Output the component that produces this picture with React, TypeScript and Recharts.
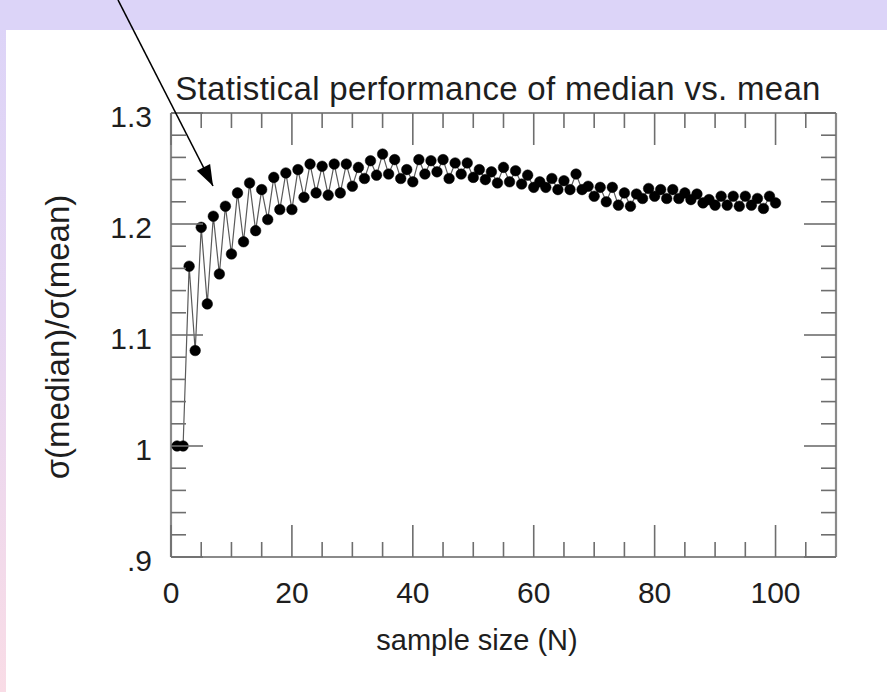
import React from 'react';
import { LineChart, Line, XAxis, YAxis } from 'recharts';

// ---------- data ----------
const sampleSizes = [
  1, 2, 3, 4, 5, 6, 7, 8, 9, 10,
  11, 12, 13, 14, 15, 16, 17, 18, 19, 20,
  21, 22, 23, 24, 25, 26, 27, 28, 29, 30,
  31, 32, 33, 34, 35, 36, 37, 38, 39, 40,
  41, 42, 43, 44, 45, 46, 47, 48, 49, 50,
  51, 52, 53, 54, 55, 56, 57, 58, 59, 60,
  61, 62, 63, 64, 65, 66, 67, 68, 69, 70,
  71, 72, 73, 74, 75, 76, 77, 78, 79, 80,
  81, 82, 83, 84, 85, 86, 87, 88, 89, 90,
  91, 92, 93, 94, 95, 96, 97, 98, 99, 100,
];

const medianToMeanRatio = [
  1.0, 1.0, 1.162, 1.086, 1.197, 1.128, 1.207, 1.155, 1.216, 1.173,
  1.228, 1.184, 1.237, 1.194, 1.231, 1.204, 1.242, 1.213, 1.246, 1.213,
  1.249, 1.224, 1.254, 1.228, 1.252, 1.226, 1.254, 1.228, 1.254, 1.234,
  1.251, 1.241, 1.257, 1.244, 1.263, 1.245, 1.258, 1.241, 1.249, 1.238,
  1.258, 1.245, 1.257, 1.247, 1.258, 1.241, 1.255, 1.245, 1.255, 1.242,
  1.249, 1.240, 1.247, 1.237, 1.251, 1.238, 1.248, 1.236, 1.244, 1.233,
  1.238, 1.233, 1.241, 1.231, 1.239, 1.231, 1.245, 1.231, 1.234, 1.225,
  1.233, 1.220, 1.233, 1.217, 1.228, 1.216, 1.227, 1.223, 1.232, 1.225,
  1.231, 1.223, 1.231, 1.223, 1.228, 1.222, 1.227, 1.219, 1.222, 1.217,
  1.225, 1.217, 1.225, 1.216, 1.225, 1.217, 1.223, 1.214, 1.225, 1.219,
];

const xMajorTicks = [0, 20, 40, 60, 80, 100];
const xTickLabels = ['0', '20', '40', '60', '80', '100'];
const xMinorTicks = [5, 10, 15, 25, 30, 35, 45, 50, 55, 65, 70, 75, 85, 90, 95, 105];

const yMajorTicks = [0.9, 1.0, 1.1, 1.2, 1.3];
const yTickLabels = ['.9', '1', '1.1', '1.2', '1.3'];
const yMinorTicks = [
  0.92, 0.94, 0.96, 0.98, 1.02, 1.04, 1.06, 1.08, 1.12, 1.14,
  1.16, 1.18, 1.22, 1.24, 1.26, 1.28,
];

const titleText = 'Statistical performance of median vs. mean';
const xAxisTitle = 'sample size (N)';
const yAxisTitle = 'σ(median)/σ(mean)';

// ---------- styles ----------
const FONT = '"Liberation Sans", Arial, Helvetica, sans-serif';
const TEXT_COLOR = '#1e1e1e';
const TICK_COLOR = '#6e6e6e';
const FRAME_COLOR = '#8a8a8a';
const MAJOR_LEN = 32;
const MINOR_LEN = 15;
const FONT_SIZE = 30;

const chartData = sampleSizes.map((n, i) => ({ n, ratio: medianToMeanRatio[i] }));
const xAllTicks = [...xMajorTicks, ...xMinorTicks].sort((a, b) => a - b);
const yAllTicks = [...yMajorTicks, ...yMinorTicks].sort((a, b) => a - b);

const xMajorIndex = (v: number) => xMajorTicks.findIndex((m) => Math.abs(m - v) < 1e-9);
const yMajorIndex = (v: number) => yMajorTicks.findIndex((m) => Math.abs(m - v) < 1e-9);

const BottomTick = (props: any) => {
  const { x, y, payload } = props;
  const idx = xMajorIndex(payload.value);
  const len = idx >= 0 ? MAJOR_LEN : MINOR_LEN;
  return (
    <g>
      <line x1={x} y1={y} x2={x} y2={y - len} stroke={TICK_COLOR} strokeWidth={1.6} />
      {idx >= 0 && (
        <text
          x={x}
          y={y + 35}
          textAnchor="middle"
          dominantBaseline="central"
          fontFamily={FONT}
          fontSize={FONT_SIZE}
          fill={TEXT_COLOR}
        >
          {xTickLabels[idx]}
        </text>
      )}
    </g>
  );
};

const TopTick = (props: any) => {
  const { x, y, payload } = props;
  const idx = xMajorIndex(payload.value);
  const len = idx >= 0 ? MAJOR_LEN : MINOR_LEN;
  return <line x1={x} y1={y} x2={x} y2={y + len} stroke={TICK_COLOR} strokeWidth={1.6} />;
};

const LeftTick = (props: any) => {
  const { x, y, payload } = props;
  const idx = yMajorIndex(payload.value);
  const len = idx >= 0 ? MAJOR_LEN : MINOR_LEN;
  return (
    <g>
      <line x1={x} y1={y} x2={x + len} y2={y} stroke={TICK_COLOR} strokeWidth={1.6} />
      {idx >= 0 && (
        <text
          x={x - 19}
          y={y + 3}
          textAnchor="end"
          dominantBaseline="central"
          fontFamily={FONT}
          fontSize={FONT_SIZE}
          fill={TEXT_COLOR}
        >
          {yTickLabels[idx]}
        </text>
      )}
    </g>
  );
};

const RightTick = (props: any) => {
  const { x, y, payload } = props;
  const idx = yMajorIndex(payload.value);
  const len = idx >= 0 ? MAJOR_LEN : MINOR_LEN;
  return <line x1={x} y1={y} x2={x - len} y2={y} stroke={TICK_COLOR} strokeWidth={1.6} />;
};

// arrow annotation geometry
const arrowStart = { x: 118, y: 0 };
const arrowTip = { x: 213, y: 186 };

function arrowHead() {
  const dx = arrowTip.x - arrowStart.x;
  const dy = arrowTip.y - arrowStart.y;
  const len = Math.sqrt(dx * dx + dy * dy);
  const ux = dx / len;
  const uy = dy / len;
  const hl = 21;
  const hw = 7.5;
  const bx = arrowTip.x - ux * hl;
  const by = arrowTip.y - uy * hl;
  return `${arrowTip.x},${arrowTip.y} ${bx - uy * hw},${by + ux * hw} ${bx + uy * hw},${by - ux * hw}`;
}

export default function App() {
  const axisLine = { stroke: FRAME_COLOR, strokeWidth: 2.2 };
  return (
    <div
      style={{
        position: 'absolute',
        left: 0,
        top: 0,
        width: 887,
        height: 692,
        overflow: 'hidden',
        background: 'linear-gradient(180deg, #dcd4f8 0%, #e6d6f2 45%, #f9dce6 100%)',
      }}
    >
      <div style={{ position: 'absolute', left: 0, top: 0, width: 887, height: 30, background: '#dcd4f8' }} />
      <div style={{ position: 'absolute', left: 6, top: 30, width: 881, height: 662, background: '#ffffff' }} />
      <div style={{ position: 'absolute', left: 0, top: 0 }}>
        <LineChart
          width={887}
          height={692}
          data={chartData}
          margin={{ top: 112, right: 50, bottom: 134, left: 170 }}
        >
          <XAxis
            xAxisId="bottom"
            dataKey="n"
            type="number"
            domain={[0, 110]}
            ticks={xAllTicks}
            interval={0}
            tickSize={0}
            tickMargin={0}
            height={1}
            tick={BottomTick}
            tickLine={false}
            axisLine={axisLine}
            allowDataOverflow
          />
          <XAxis
            xAxisId="top"
            orientation="top"
            dataKey="n"
            type="number"
            domain={[0, 110]}
            ticks={xAllTicks}
            interval={0}
            tickSize={0}
            tickMargin={0}
            height={1}
            tick={TopTick}
            tickLine={false}
            axisLine={axisLine}
            allowDataOverflow
          />
          <YAxis
            yAxisId="left"
            dataKey="ratio"
            type="number"
            domain={[0.9, 1.3]}
            ticks={yAllTicks}
            interval={0}
            tickSize={0}
            tickMargin={0}
            width={1}
            tick={LeftTick}
            tickLine={false}
            axisLine={axisLine}
            allowDataOverflow
          />
          <YAxis
            yAxisId="right"
            orientation="right"
            dataKey="ratio"
            type="number"
            domain={[0.9, 1.3]}
            ticks={yAllTicks}
            interval={0}
            tickSize={0}
            tickMargin={0}
            width={1}
            tick={RightTick}
            tickLine={false}
            axisLine={axisLine}
            allowDataOverflow
          />
          <Line
            xAxisId="bottom"
            yAxisId="left"
            type="linear"
            dataKey="ratio"
            stroke="#5a5a5a"
            strokeWidth={1.2}
            dot={{ r: 5.3, fill: '#000', stroke: '#000', strokeWidth: 0.5 }}
            activeDot={false}
            isAnimationActive={false}
          />
        </LineChart>
      </div>
      <svg
        width={887}
        height={692}
        style={{ position: 'absolute', left: 0, top: 0, pointerEvents: 'none' }}
      >
        <text
          x={498}
          y={88}
          textAnchor="middle"
          dominantBaseline="central"
          fontFamily={FONT}
          fontSize={33}
          letterSpacing={0.3}
          fill={TEXT_COLOR}
        >
          {titleText}
        </text>
        <text
          x={477}
          y={640}
          textAnchor="middle"
          dominantBaseline="central"
          fontFamily={FONT}
          fontSize={29}
          fill={TEXT_COLOR}
        >
          {xAxisTitle}
        </text>
        <text
          x={57}
          y={337}
          transform="rotate(-90 57 337)"
          textAnchor="middle"
          dominantBaseline="central"
          fontFamily={FONT}
          fontSize={33}
          fill={TEXT_COLOR}
        >
          {yAxisTitle}
        </text>
        <line
          x1={arrowStart.x}
          y1={arrowStart.y}
          x2={arrowTip.x}
          y2={arrowTip.y}
          stroke="#000"
          strokeWidth={1.6}
        />
        <polygon points={arrowHead()} fill="#000" />
      </svg>
    </div>
  );
}
